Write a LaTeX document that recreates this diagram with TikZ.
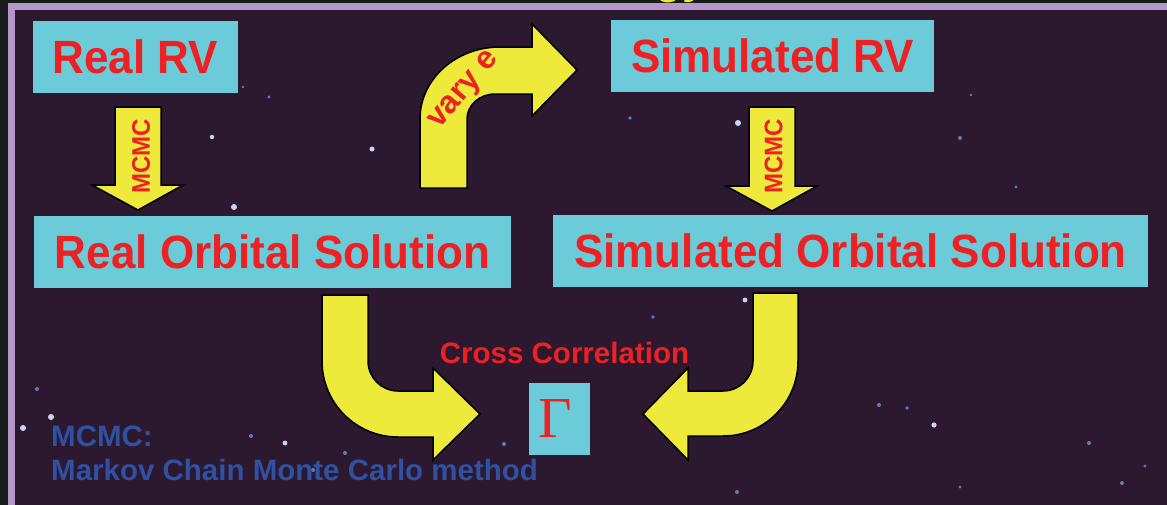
\documentclass[tikz,border=0pt]{standalone}
\usepackage{fontspec}
\usepackage{graphicx}
\setmainfont{Liberation Sans}
\newfontfamily\gammafont{Liberation Serif}
\newcommand{\talltext}[1]{\scalebox{1}[1.06]{#1}}
\definecolor{outerbg}{RGB}{24,28,24}
\definecolor{lavender}{RGB}{182,150,200}
\definecolor{innerbg}{RGB}{44,24,47}
\definecolor{cyanbox}{RGB}{108,203,216}
\definecolor{redtxt}{RGB}{237,32,36}
\definecolor{arrowyellow}{RGB}{238,234,60}
\definecolor{bluetxt}{RGB}{48,80,162}
\definecolor{starA}{RGB}{200,215,240}
\definecolor{starB}{RGB}{110,150,205}
\tikzset{
  box/.style={fill=cyanbox, inner sep=0pt, text=redtxt, font=\bfseries\fontsize{44}{50}\selectfont},
  blockarrow/.style={fill=arrowyellow, draw=black, line width=1.5pt, line join=miter},
  arrowlabel/.style={text=redtxt, inner sep=0pt, font=\bfseries\fontsize{24}{28}\selectfont},
  curvelabel/.style={text=redtxt, inner sep=0pt, font=\bfseries\fontsize{32}{34}\selectfont},
  note/.style={text=bluetxt, inner sep=0pt, anchor=base west, font=\bfseries\fontsize{29.5}{34}\selectfont},
  starbright/.style={fill=starA, draw=none},
  stardim/.style={fill=starB, draw=none, opacity=0.8},
}
\begin{document}
\begin{tikzpicture}[x=1pt,y=-1pt]
\useasboundingbox (0,0) rectangle (1167,504);
% background
\fill[outerbg] (-5,-5) rectangle (1172,509);
\fill[lavender] (7.5,3) rectangle (1172,509);
\fill[innerbg] (15,10) rectangle (1172,509);
% clipped title descenders
\begin{scope}
  \clip (0,-5) rectangle (1167,3);
  \node[anchor=base west, inner sep=0pt, text=arrowyellow, font=\bfseries\fontsize{44}{50}\selectfont] (title) at (655,-7) {gy};
\end{scope}
% stars
\foreach \x/\y/\r in {234/207/3, 372/149/2.5, 212/137/2.2, 738/123/3, 51/417/3, 23/428/3, 934/425/2.6, 285/443/2.4, 745/300/2.4}
  \fill[starbright] (\x,\y) circle[radius=\r];
\foreach \x/\y/\r in {269/97/1.6, 630/118/1.8, 960/138/2, 971/95/1.4, 1016/187/1.6, 653/317/1.8, 504/444/2, 345/453/2, 313/470/2, 737/492/2, 37/389/2, 251/436/2, 879/405/2, 907/408/1.8, 1089/443/2, 1122/483/2, 960/487/1.6, 1145/466/1.6, 243/87/1.4}
  \fill[stardim] (\x,\y) circle[radius=\r];
% boxes
\node[box, minimum width=205, minimum height=72] (realrv) at (135.5,57) {\talltext{Real RV}};
\node[box, minimum width=323, minimum height=72] (simrv) at (772.5,55.5) {\talltext{Simulated RV}};
\node[box, minimum width=477, minimum height=72] (realorb) at (272.5,252) {\talltext{Real Orbital Solution}};
\node[box, minimum width=595, minimum height=72] (simorb) at (850.5,251) {\talltext{Simulated Orbital Solution}};
\node[box, minimum width=61, minimum height=72, font=\gammafont\fontsize{58}{60}\selectfont] (gamma) at (559.5,419) {\raisebox{-3pt}{\hspace*{-8pt}Γ}};
% straight MCMC arrows
\draw[blockarrow] (115,107) -- (161,107) -- (161,185) -- (183,185) -- (138,210) -- (92,185) -- (115,185) -- cycle;
\node[arrowlabel, rotate=90] (mcmcL) at (141,156) {\talltext{MCMC}};
\draw[blockarrow] (749,107) -- (795,107) -- (795,186) -- (817,186) -- (772,211) -- (726,186) -- (749,186) -- cycle;
\node[arrowlabel, rotate=90] (mcmcR) at (773.5,156) {\talltext{MCMC}};
% vary e arrow
\draw[blockarrow] (420,188) -- (420,119) arc[start angle=180, end angle=270, x radius=80, y radius=72] -- (532,47) -- (532,24) -- (577,70) -- (532,116) -- (532,94) -- (495,94) arc[start angle=270, end angle=180, x radius=28, y radius=25] -- (467,188) -- cycle;
\node[curvelabel, rotate=50] (vary) at (465,91) {vary e};
% U arrows into Gamma
\draw[blockarrow] (322,295) -- (322,361) arc[start angle=180, end angle=90, radius=76] -- (433,437) -- (433,460) -- (480,414) -- (433,368) -- (433,391) -- (398,391) arc[start angle=90, end angle=180, radius=30] -- (368,295) -- cycle;
\draw[blockarrow] (798,293) -- (798,361) arc[start angle=0, end angle=90, radius=75] -- (688,436) -- (688,460) -- (643,414) -- (688,368) -- (688,391) -- (723,391) arc[start angle=90, end angle=0, radius=30] -- (753,293) -- cycle;
\node[text=redtxt, inner sep=0pt, font=\bfseries\fontsize{29.5}{34}\selectfont] (cross) at (564.5,352.5) {Cross Correlation};
% note
\node[note] (note1) at (51,446) {MCMC:};
\node[note] (note2) at (51,480) {Markov Chain Monte Carlo method};
\end{tikzpicture}
\end{document}
